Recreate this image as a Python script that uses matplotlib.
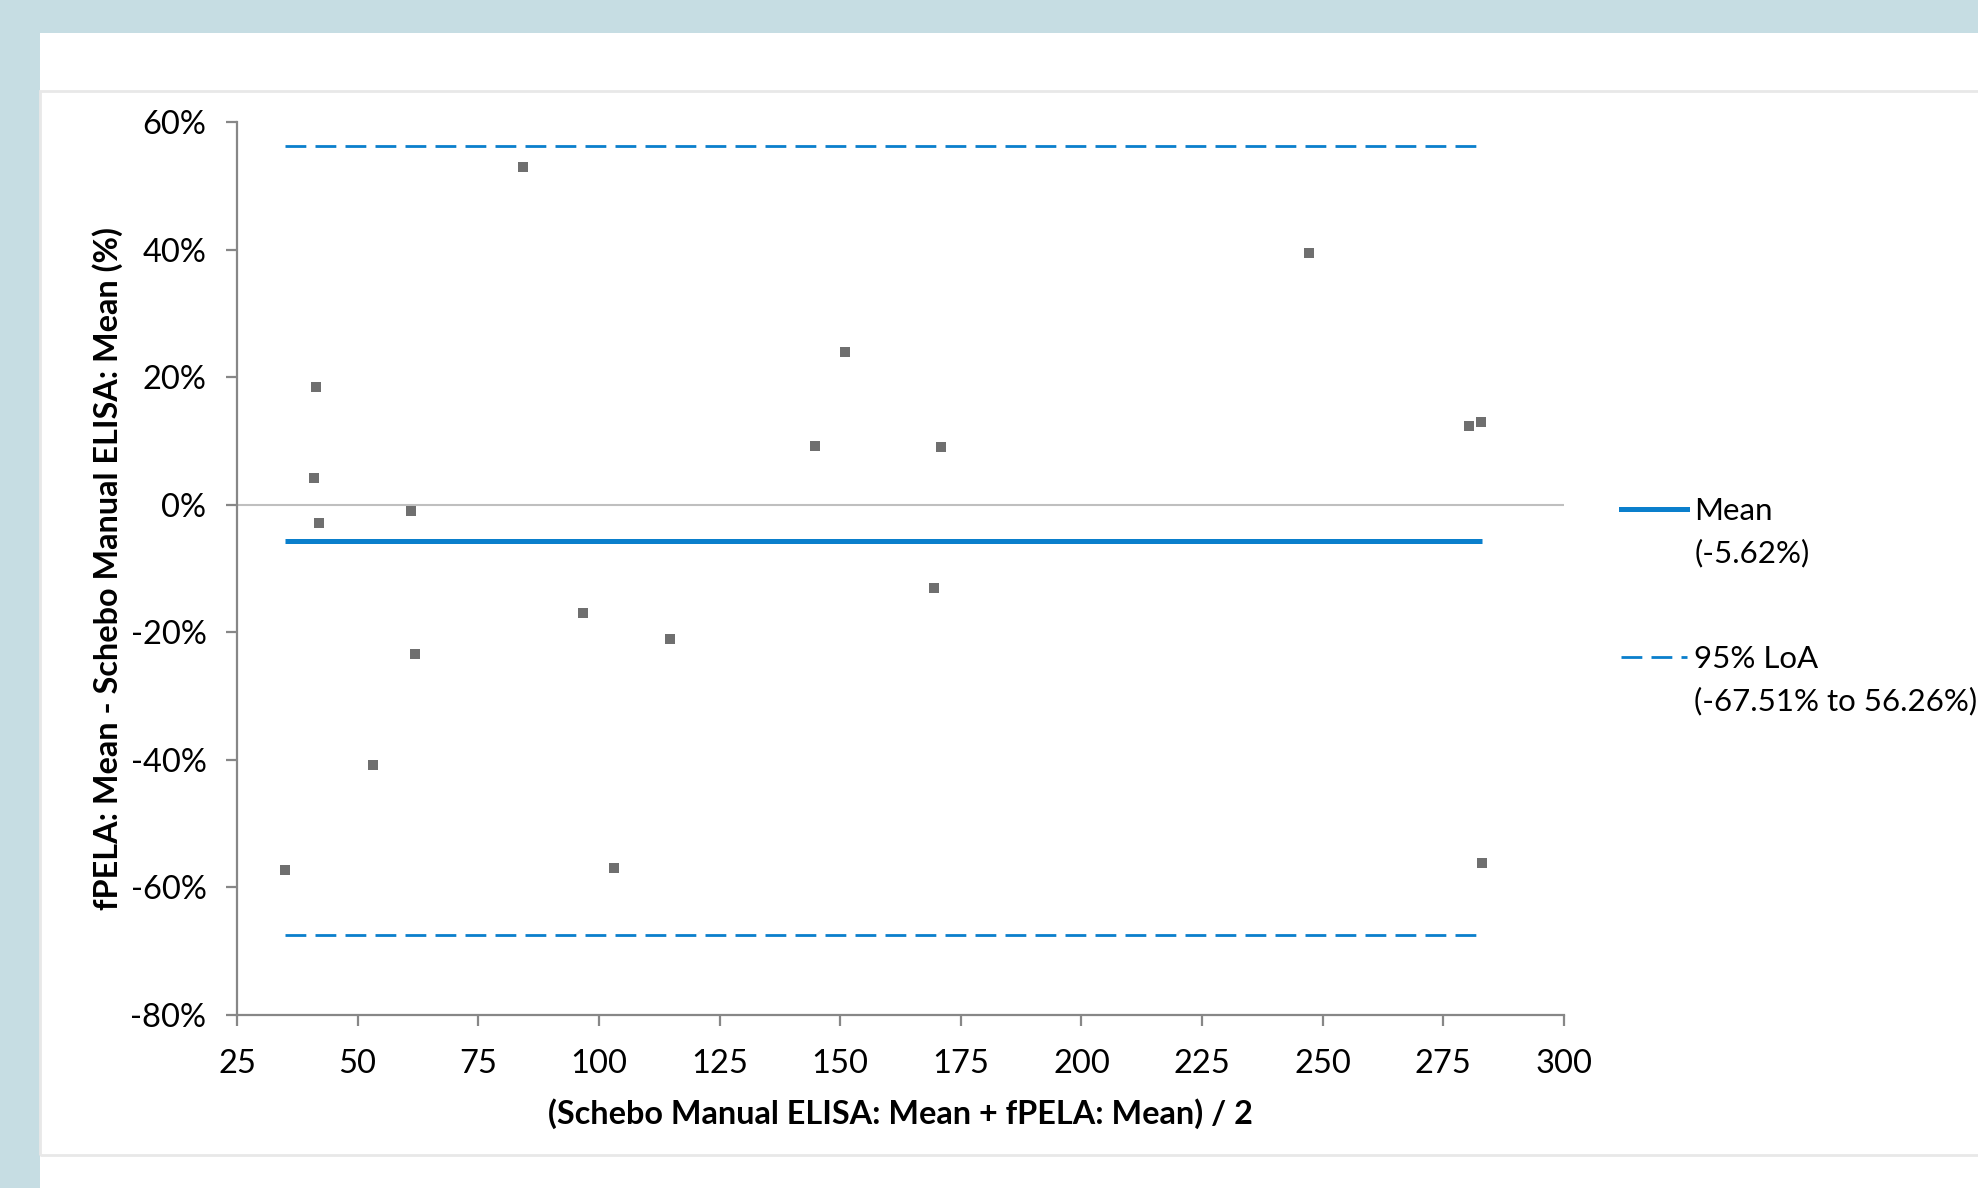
import matplotlib
matplotlib.use("Agg")
import matplotlib.pyplot as plt
from matplotlib.lines import Line2D
from matplotlib.patches import Rectangle
from matplotlib.ticker import FuncFormatter

# Bland-Altman data: average of methods vs % difference
avg_x = [35.0, 40.9, 41.3, 41.9, 53.1, 61.1, 61.8, 84.3, 96.8, 103.2,
         114.8, 144.7, 151.0, 169.5, 170.8, 247.1, 280.3, 282.8, 283.1]
diff_pct = [-57.3, 4.2, 18.5, -2.9, -40.8, -1.0, -23.4, 53.0, -17.0, -57.0,
            -21.1, 9.2, 23.9, -13.0, 9.1, 39.4, 12.3, 13.0, -56.2]
mean_diff = -5.62
loa_low = -67.51
loa_high = 56.26

x_ticks = [25, 50, 75, 100, 125, 150, 175, 200, 225, 250, 275, 300]
y_ticks = [-80, -60, -40, -20, 0, 20, 40, 60]

plt.rcParams['font.family'] = ['Lato', 'DejaVu Sans']
blue = '#0a7fcc'
axis_gray = '#878787'

fig = plt.figure(figsize=(19.78, 11.88), dpi=100, facecolor='#c6dde3')

# white panel with faint frame
fig.add_artist(Rectangle((0.0202, 0), 1.0, 0.9722, transform=fig.transFigure,
                         facecolor='white', edgecolor='none', zorder=0))
fig.add_artist(Rectangle((0.0202, 0.0278), 1.0, 0.8956, transform=fig.transFigure,
                         facecolor='none', edgecolor='#e8e8e8', lw=2, zorder=0))

ax = fig.add_axes([0.1198, 0.1456, 0.6709, 0.7517])
ax.set_facecolor('none')

ax.axhline(0, color='#bfbfbf', lw=1.5, zorder=1)
x0, x1 = min(avg_x), max(avg_x)
ax.hlines(mean_diff, x0, x1, color=blue, lw=3.6, zorder=2)
ax.hlines([loa_low, loa_high], x0, x1, color=blue, lw=2.0,
          linestyles=(0, (7.5, 3.3)), zorder=2)
ax.plot(avg_x, diff_pct, linestyle='none', marker='s', markersize=6.9,
        color='#6f6f6f', markeredgewidth=0, zorder=3)

ax.set_xlim(25, 300)
ax.set_ylim(-80, 60)
ax.set_xticks(x_ticks)
ax.set_yticks(y_ticks)
ax.yaxis.set_major_formatter(FuncFormatter(lambda v, p: f"{v:.0f}%"))

for s in ['top', 'right']:
    ax.spines[s].set_visible(False)
for s in ['left', 'bottom']:
    ax.spines[s].set_color(axis_gray)
    ax.spines[s].set_linewidth(1.6)
ax.tick_params(axis='both', direction='out', length=8, width=1.6,
               color=axis_gray, labelsize=23.5, labelcolor='black')
ax.tick_params(axis='y', pad=14)
ax.tick_params(axis='x', pad=16.5)

ax.set_xlabel('(Schebo Manual ELISA: Mean + fPELA: Mean) / 2',
              fontsize=23.3, fontweight='bold', labelpad=13.5)
ax.set_ylabel('fPELA: Mean - Schebo Manual ELISA: Mean (%)',
              fontsize=23.3, fontweight='bold', labelpad=5)

handles = [Line2D([], [], color=blue, lw=3.6),
           Line2D([], [], color=blue, lw=2.0, linestyle=(0, (7.5, 3.3)))]
leg = ax.legend(handles, ['Mean', '95% LoA'], loc='upper left',
                bbox_to_anchor=(0.8195, 0.5818), bbox_transform=fig.transFigure,
                frameon=False, fontsize=22.5, borderpad=0, borderaxespad=0,
                handlelength=2.1, handletextpad=0.25, labelspacing=3.85)
for t, sub in zip(leg.get_texts(), ['(-5.62%)', '(-67.51% to 56.26%)']):
    ax.annotate(sub, xy=(0, 0), xycoords=t, xytext=(0, -10),
                textcoords='offset points', va='top', ha='left', fontsize=22.5,
                annotation_clip=False, zorder=10)

fig.savefig('out.png', dpi=100, facecolor=fig.get_facecolor())
